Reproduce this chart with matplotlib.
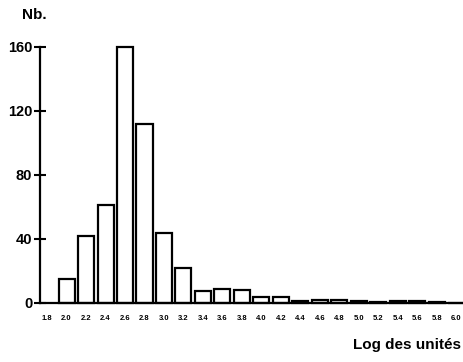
import matplotlib
matplotlib.use("Agg")
import matplotlib.pyplot as plt

plt.rcParams['font.family'] = ['Liberation Sans', 'DejaVu Sans']

log_units = [2.0, 2.2, 2.4, 2.6, 2.8, 3.0, 3.2, 3.4, 3.6, 3.8, 4.0, 4.2,
             4.4, 4.6, 4.8, 5.0, 5.2, 5.4, 5.6, 5.8, 6.0]
counts = [15, 42, 61, 160, 112, 44, 22, 7.5, 8.5, 8, 4, 4,
          1, 2, 2, 1, 0.4, 1, 1, 0.4, 0.2]
xtick_vals = [1.8, 2.0, 2.2, 2.4, 2.6, 2.8, 3.0, 3.2, 3.4, 3.6, 3.8, 4.0, 4.2,
              4.4, 4.6, 4.8, 5.0, 5.2, 5.4, 5.6, 5.8, 6.0]
ytick_vals = [0, 40, 80, 120, 160]

W, H = 464, 362
fig = plt.figure(figsize=(W/100, H/100), dpi=100)
ax = fig.add_axes([40/W, 59/H, 422/W, 256/H])

bars = ax.bar(log_units, counts, width=0.165, facecolor='white', edgecolor='black',
              linewidth=1.6, align='center', zorder=2)
for b in bars:
    b.set_clip_on(False)

ax.set_xlim(1.727, 6.06)
ax.set_ylim(0, 160)

for s in ['top', 'right']:
    ax.spines[s].set_visible(False)
ax.spines['left'].set_linewidth(1.6)
ax.spines['bottom'].set_linewidth(1.6)
ax.spines['left'].set_bounds(0, 160)

ax.set_yticks(ytick_vals)
ax.set_yticklabels([str(v) for v in ytick_vals], fontsize=10.5, fontweight='bold')
ax.tick_params(axis='y', direction='inout', length=9, width=1.5, pad=1)

ax.set_xticks(xtick_vals)
ax.set_xticklabels([f"{v:.1f}" for v in xtick_vals], fontsize=5.5, fontweight='bold')
ax.tick_params(axis='x', length=0, pad=9)

fig.text(22/W, 1 - 15/H, "Nb.", fontsize=11, fontweight='bold', ha='left', va='center')
fig.text(407/W, 1 - 345/H, "Log des unités", fontsize=11, fontweight='bold',
         ha='center', va='center')

fig.savefig("out.png", dpi=100, facecolor='white')
